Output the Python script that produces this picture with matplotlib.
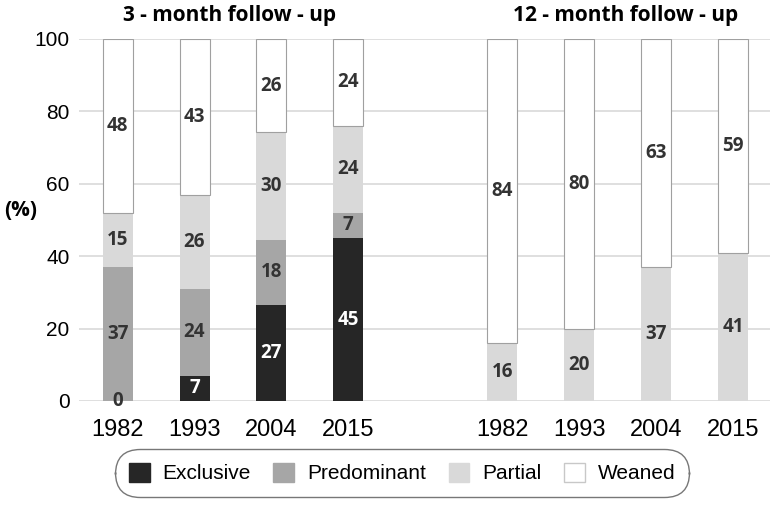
import numpy as np
import matplotlib.pyplot as plt
from matplotlib.patches import Patch

years = ['1982', '1993', '2004', '2015']
groups = ['3 - month follow - up', '12 - month follow - up']
categories = ['Exclusive', 'Predominant', 'Partial', 'Weaned']

# 3-month follow-up (%), 12-month follow-up (%)
exclusive_3m = [0, 7, 26.6, 45]
predominant_3m = [37, 24, 17.9, 7]
partial_3m = [15, 26, 29.7, 24]
weaned_3m = [48, 43, 25.8, 24]

exclusive_12m = [0, 0, 0, 0]
predominant_12m = [0, 0, 0, 0]
partial_12m = [16, 20, 37, 41]
weaned_12m = [84, 80, 63, 59]

colors = ['#262626', '#a6a6a6', '#d9d9d9', '#ffffff']
text_colors = ['white', '#333333', '#333333', '#333333']

x3 = np.arange(4)
x12 = np.arange(4) + 5
width = 0.39

fig = plt.figure(figsize=(7.76, 5.05), dpi=100)
ax = fig.add_axes([0.102, 0.206, 0.89, 0.717])

bold = ['Open Sans', 'DejaVu Sans']
label_font = dict(family=bold, fontweight='bold', fontsize=13.5)

def draw_group(xs, series, show_zero):
    bottom = np.zeros(len(xs))
    for i, vals in enumerate(series):
        vals = np.array(vals, dtype=float)
        edge = '#a0a0a0' if i == 3 else 'none'
        ax.bar(xs, vals, width, bottom=bottom, color=colors[i],
               edgecolor=edge, linewidth=0.8, zorder=3)
        for x, b, v in zip(xs, bottom, vals):
            if v > 0 or (show_zero and i == 0):
                ax.text(x, b + v / 2, f'{v:.0f}', ha='center', va='center',
                        color=text_colors[i] if v > 0 else '#333333',
                        zorder=4, **label_font)
        bottom += vals

draw_group(x3, [exclusive_3m, predominant_3m, partial_3m, weaned_3m], True)
draw_group(x12, [exclusive_12m, predominant_12m, partial_12m, weaned_12m], False)

ax.set_xlim(-0.5, 8.48)
ax.set_ylim(0, 100)
ax.set_yticks([0, 20, 40, 60, 80, 100])
ax.set_xticks(list(x3) + list(x12))
ax.set_xticklabels(years + years, fontsize=17, family='Liberation Sans')
for lbl in ax.get_yticklabels():
    lbl.set_fontsize(15)
    lbl.set_family('Liberation Sans')
ax.tick_params(axis='y', length=0, pad=7)
ax.tick_params(axis='x', length=0, pad=13)
ax.grid(axis='y', color='#d9d9d9', linewidth=1.2, zorder=0)
for s in ax.spines.values():
    s.set_visible(False)

ax.text(np.mean(x3) - 0.05, 103.5, groups[0], ha='center', va='bottom',
        family=bold, fontweight='bold', fontsize=15)
ax.text(np.mean(x12) + 0.1, 103.5, groups[1], ha='center', va='bottom',
        family=bold, fontweight='bold', fontsize=15)
fig.text(0.005, 0.584, '(%)', ha='left', va='center',
         family=bold, fontweight='bold', fontsize=15)

handles = [Patch(facecolor=c, edgecolor='#c8c8c8' if c == '#ffffff' else c)
           for c in colors]
leg = fig.legend(handles, categories, loc='center', bbox_to_anchor=(0.518, 0.063),
                 ncol=4, frameon=True, fancybox=True,
                 prop={'family': 'Liberation Sans', 'size': 15},
                 handlelength=1.0, handleheight=1.0, columnspacing=1.1,
                 handletextpad=0.6, borderpad=0.45)
leg.get_frame().set_edgecolor('#555555')
leg.get_frame().set_linewidth(1.0)
leg.get_frame().set_boxstyle('round,pad=0.2,rounding_size=1.2')

fig.savefig('out.png', dpi=100)
